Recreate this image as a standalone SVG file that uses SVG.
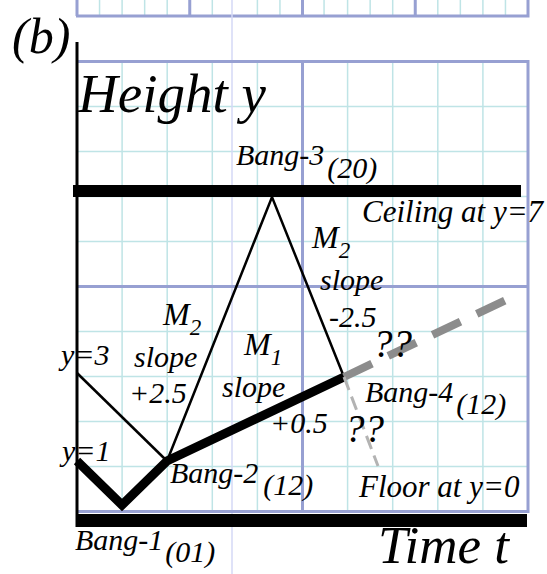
<svg xmlns="http://www.w3.org/2000/svg" width="547" height="574" viewBox="0 0 547 574">
<style>
.minor{stroke:#bfe4e6;stroke-width:1.5;fill:none}
.major{stroke:#97a0d2;stroke-width:3;fill:none}
.lav{stroke:#d4d8f6;stroke-width:1.5;fill:none}
.t{font-family:"Liberation Serif","Times New Roman",serif;font-style:italic;fill:#000;font-size:30px}
.big{font-size:55px}
.q{font-size:39px}
.c{font-size:31px}
.m{font-size:32px}
.sub{font-size:23px}
.thin{stroke:#000;stroke-width:2.5;fill:none;stroke-linejoin:miter}
.thick{stroke:#000;stroke-width:9;fill:none;stroke-linejoin:miter;stroke-miterlimit:10}
</style>
<rect width="547" height="574" fill="#fff"/>
<g id="grid">
  <g class="minor">
    <path d="M99.55 0V16M122.1 0V16M144.65 0V16M167.2 0V16M212.3 0V16M257.4 0V16M279.95 0V16M324.05 0V16M347.6 0V16M370.15 0V16M392.7 0V16M437.8 0V16M460.35 0V16M482.9 0V16M505.45 0V16"/>
  </g>
  <path class="major" d="M77 0V16M189.75 0V16M302.5 0V16M415.25 0V16M528 0V16M76 16H529.5"/>
  <g class="minor">
    <path d="M122.1 61.5V511.5M167.2 61.5V511.5M212.3 61.5V511.5M257.4 61.5V511.5M347.6 61.5V511.5M392.7 61.5V511.5M437.8 61.5V511.5M482.9 61.5V511.5"/>
    <path d="M77 106.5H528M77 151.5H528M77 196.5H528M77 241.5H528M77 331.5H528M77 376.5H528M77 421.5H528M77 466.5H528"/>
  </g>
  <line class="lav" x1="232" y1="0" x2="232" y2="574"/>
  <path class="major" d="M77 61.5H529.5M77 286.5H528M77 511.5H529.5M302.5 61.5V511.5M528 61.5V513"/>
</g>
<g id="axes">
  <line x1="77" y1="42" x2="77" y2="527" stroke="#000" stroke-width="3"/>
  <rect id="floor-bar" x="76" y="514" width="451" height="13" fill="#000"/>
  <rect id="ceiling-bar" x="73" y="185" width="448" height="12" fill="#000"/>
</g>
<g id="connectors">
  <polyline class="thin" points="77,373 167,461"/>
  <polyline class="thin" points="167,461 272,197 344,377"/>
  <polyline class="thick" points="77,461 122,505 167,461 344,377"/>
  <line x1="344" y1="377" x2="508" y2="299" stroke="#8c8c8c" stroke-width="8" stroke-dasharray="31 18"/>
  <line x1="344" y1="377" x2="378" y2="466" stroke="#b3b3b3" stroke-width="3" stroke-dasharray="14 7"/>
</g>
<g id="labels">
  <text class="t" x="12" y="53" style="font-size:50px">(b)</text>
  <text class="t big" x="78" y="112">Height y</text>
  <text class="t" x="236" y="165">Bang-3<tspan dx="3" dy="13">(20)</tspan></text>
  <text class="t c" x="362" y="222">Ceiling at y=7</text>
  <text class="t m" x="312" y="248">M<tspan class="sub" dy="10">2</tspan></text>
  <text class="t" x="320" y="290">slope</text>
  <text class="t" x="329" y="327">-2.5</text>
  <text class="t q" x="373" y="357">??</text>
  <text class="t m" x="163" y="325">M<tspan class="sub" dy="10">2</tspan></text>
  <text class="t" x="134" y="367">slope</text>
  <text class="t" x="129" y="403">+2.5</text>
  <text class="t" x="61" y="365">y=3</text>
  <text class="t m" x="244" y="355">M<tspan class="sub" dy="10">1</tspan></text>
  <text class="t" x="222" y="397">slope</text>
  <text class="t" x="270" y="433">+0.5</text>
  <text class="t q" x="345" y="442">??</text>
  <text class="t" x="365" y="402">Bang-4<tspan dx="3" dy="12">(12)</tspan></text>
  <text class="t" x="62" y="461">y=1</text>
  <text class="t" x="170" y="483">Bang-2<tspan dx="5" dy="12">(12)</tspan></text>
  <text class="t c" x="359" y="497">Floor at y=0</text>
  <text class="t" x="75" y="550">Bang-1<tspan dx="2" dy="12">(01)</tspan></text>
  <text class="t" x="378" y="563" style="font-size:53px">Time t</text>
</g>
</svg>
